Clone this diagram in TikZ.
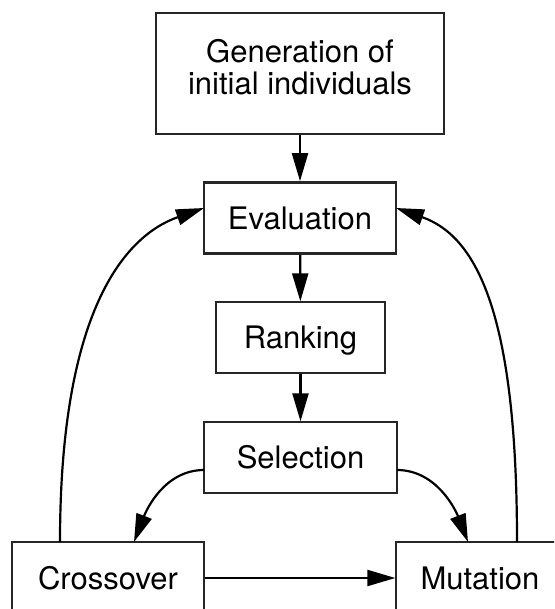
\documentclass[tikz,border=0pt]{standalone}
\usepackage{fontspec}
\setmainfont{TeX Gyre Heros}
\usetikzlibrary{arrows.meta}
\begin{document}
\begin{tikzpicture}[x=1pt,y=-1pt,
  box/.style={draw=black!85,line width=1.3pt,rectangle,inner sep=0pt,
    font=\fontsize{31}{32}\selectfont,text height=22.3pt,text depth=0pt},
  thickbox/.style={box,line width=2.6pt},
  label/.style={font=\fontsize{31}{32}\selectfont,align=center,inner sep=0pt},
  flow/.style={line width=2.2pt,-{Triangle[length=28pt,width=16pt]}}]
\path[use as bounding box] (0,0) rectangle (554,609);
\clip (0,0) rectangle (554,609);
\node[box,minimum width=288pt,minimum height=121pt] (gen) at (300,73.5) {};
\node[label] (gentext) at (300,66.7) {Generation of\\initial individuals};
\node[thickbox,minimum width=192pt,minimum height=71pt] (eval) at (300,218) {Evaluation};
\node[box,minimum width=169pt,minimum height=71pt] (rank) at (300.5,337.5) {Ranking};
\node[box,minimum width=193pt,minimum height=71pt] (sel) at (300.5,457.5) {Selection};
\node[box,minimum width=192pt,minimum height=72pt] (cross) at (108,578) {Crossover};
\node[box,minimum width=168pt,minimum height=72pt] (mut) at (480,578) {Mutation};
\coordinate (selL) at (204,470);
\coordinate (selR) at (397,470);
\coordinate (crossIn) at (134,542);
\coordinate (mutIn) at (468,542);
\coordinate (crossOut) at (60,542);
\coordinate (mutOut) at (517,542);
\coordinate (evalL) at (204,208);
\coordinate (evalR) at (396,208);
\draw[flow] (gen) -- (eval);
\draw[flow] (eval) -- (rank);
\draw[flow] (rank) -- (sel);
\draw[flow] (selL) .. controls +(-40,0) and +(12,-31) .. (crossIn);
\draw[flow] (selR) .. controls +(40,0) and +(-12,-31) .. (mutIn);
\draw[flow] (cross) -- (mut);
\draw[flow] (crossOut) .. controls +(0,-230) and +(-80,28) .. (evalL);
\draw[flow] (mutOut) .. controls +(0,-230) and +(80,28) .. (evalR);
\end{tikzpicture}
\end{document}
